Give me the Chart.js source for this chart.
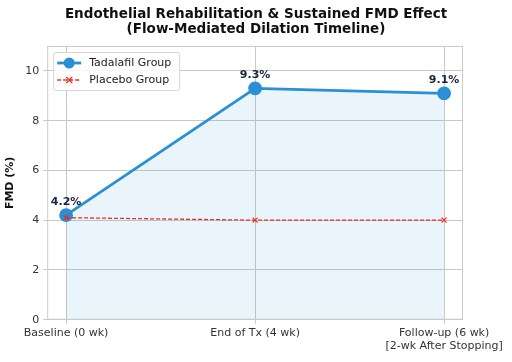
<!DOCTYPE html>
<html lang="en">
<head>
<meta charset="UTF-8">
<title>Endothelial Rehabilitation FMD</title>
<script src="https://cdn.jsdelivr.net/npm/chart.js@4.4.1/dist/chart.umd.min.js"></script>
<style>
  html, body { margin: 0; padding: 0; background: #fff; }
  #wrap { width: 512px; height: 362px; position: relative; }
</style>
</head>
<body>
<div id="wrap"><canvas id="fmd"></canvas></div>
<script>
// data
const timepoints = ["Baseline (0 wk)", "End of Tx (4 wk)", ["Follow-up (6 wk)", "[2-wk After Stopping]"]];
const tadalafil = [4.2, 9.3, 9.1];
const placebo = [4.1, 4.0, 4.0];
const yTicks = [0, 2, 4, 6, 8, 10];
const titleLines = ["Endothelial Rehabilitation & Sustained FMD Effect", "(Flow-Mediated Dilation Timeline)"];

const FONT = "'DejaVu Sans', sans-serif";
const BLUE = "#2b8fd6";
const RED = "#e8301c";

const toXY = arr => arr.map((v, i) => ({ x: i, y: v }));

// title centred on the whole canvas, frame, value labels and the in-plot legend
const decor = {
  id: "decor",
  afterDraw(chart) {
    const { ctx } = chart;
    ctx.save();
    ctx.font = "bold 13.5px " + FONT;
    ctx.fillStyle = "#111";
    ctx.textAlign = "center";
    ctx.textBaseline = "middle";
    titleLines.forEach((t, i) => ctx.fillText(t, chart.width / 2, 14 + i * 15.5));
    ctx.restore();
  },
  afterDatasetsDraw(chart) {
    const { ctx, chartArea: a, scales } = chart;
    ctx.save();
    ctx.strokeStyle = "#cccccc";
    ctx.lineWidth = 1;
    ctx.strokeRect(a.left + 0.5, a.top + 0.5, a.width - 1, a.height - 1);

    // value labels
    ctx.font = "bold 11px " + FONT;
    ctx.fillStyle = "#1a2540";
    ctx.textAlign = "center";
    ctx.textBaseline = "bottom";
    tadalafil.forEach((v, i) => {
      ctx.fillText(v.toFixed(1) + "%", scales.x.getPixelForValue(i), scales.y.getPixelForValue(v) - 8);
    });

    // legend box
    const lx = a.left + 6, ly = a.top + 6, lw = 126, lh = 38;
    ctx.fillStyle = "rgba(255,255,255,0.85)";
    ctx.strokeStyle = "#d6d6d6";
    ctx.beginPath();
    ctx.roundRect(lx + 0.5, ly + 0.5, lw, lh, 2);
    ctx.fill();
    ctx.stroke();

    // tadalafil entry
    let y = ly + 11;
    ctx.strokeStyle = BLUE;
    ctx.lineWidth = 2.8;
    ctx.beginPath();
    ctx.moveTo(lx + 4, y);
    ctx.lineTo(lx + 28, y);
    ctx.stroke();
    ctx.fillStyle = BLUE;
    ctx.beginPath();
    ctx.arc(lx + 16, y, 5.5, 0, Math.PI * 2);
    ctx.fill();
    ctx.fillStyle = "#222";
    ctx.font = "11px " + FONT;
    ctx.textAlign = "left";
    ctx.textBaseline = "middle";
    ctx.fillText("Tadalafil Group", lx + 36, y);

    // placebo entry
    y = ly + 28;
    ctx.strokeStyle = RED;
    ctx.lineWidth = 1.3;
    ctx.setLineDash([4, 2]);
    ctx.beginPath();
    ctx.moveTo(lx + 4, y);
    ctx.lineTo(lx + 28, y);
    ctx.stroke();
    ctx.setLineDash([]);
    ctx.beginPath();
    ctx.moveTo(lx + 13, y - 3); ctx.lineTo(lx + 19, y + 3);
    ctx.moveTo(lx + 19, y - 3); ctx.lineTo(lx + 13, y + 3);
    ctx.stroke();
    ctx.fillText("Placebo Group", lx + 36, y);
    ctx.restore();
  }
};

new Chart(document.getElementById("fmd"), {
  type: "line",
  data: {
    datasets: [
      {
        label: "Tadalafil Group",
        data: toXY(tadalafil),
        borderColor: BLUE,
        backgroundColor: "rgba(43,143,214,0.10)",
        pointBackgroundColor: BLUE,
        pointBorderColor: BLUE,
        borderWidth: 2.8,
        pointRadius: 5.5,
        fill: "origin",
        tension: 0,
        order: 1
      },
      {
        label: "Placebo Group",
        data: toXY(placebo),
        borderColor: RED,
        backgroundColor: RED,
        borderWidth: 1.3,
        borderDash: [4, 2],
        pointStyle: "crossRot",
        pointRadius: 3.5,
        pointBorderColor: RED,
        pointBorderWidth: 1.2,
        fill: false,
        tension: 0,
        order: 0
      }
    ]
  },
  options: {
    responsive: true,
    maintainAspectRatio: false,
    animation: false,
    layout: { padding: { left: 4, right: 49, top: 46, bottom: 7 } },
    scales: {
      x: {
        type: "linear",
        min: -0.1,
        max: 2.1,
        afterBuildTicks: s => { s.ticks = [0, 1, 2].map(v => ({ value: v })); },
        grid: { color: "#c8c8c8", drawTicks: true, tickLength: 4 },
        border: { display: false },
        ticks: {
          autoSkip: false,
          maxRotation: 0,
          padding: 3,
          color: "#333",
          font: { family: FONT, size: 11, lineHeight: 1.15 },
          callback: v => timepoints[v]
        }
      },
      y: {
        min: 0,
        max: 11,
        afterBuildTicks: s => { s.ticks = yTicks.map(v => ({ value: v })); },
        grid: { color: "#c8c8c8", tickLength: 4 },
        border: { display: false },
        title: {
          display: true,
          text: "FMD (%)",
          color: "#111",
          font: { family: FONT, size: 11, weight: "bold" },
          padding: { top: 0, bottom: 4 }
        },
        ticks: {
          padding: 4,
          color: "#333",
          font: { family: FONT, size: 11 }
        }
      }
    },
    plugins: {
      legend: { display: false },
      tooltip: { enabled: false },
      title: { display: false }
    }
  },
  plugins: [decor]
});
</script>
</body>
</html>
